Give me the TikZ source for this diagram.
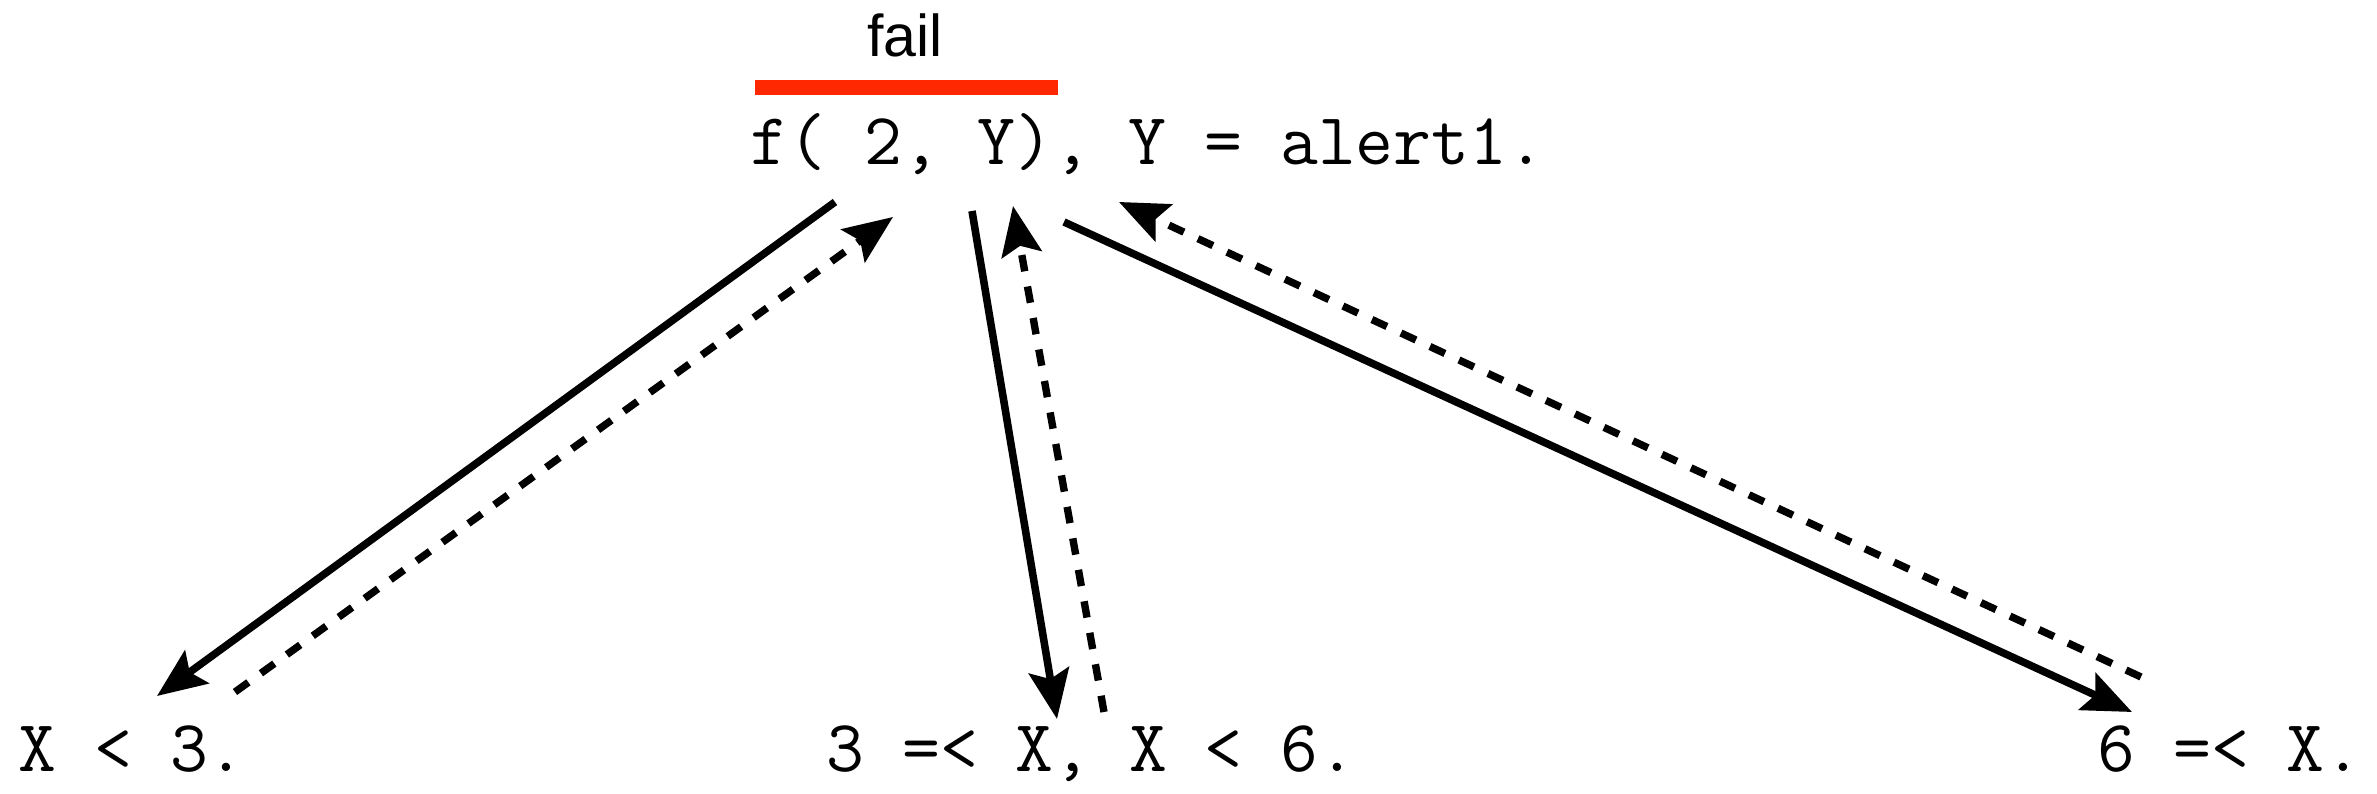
\documentclass[tikz,border=0pt]{standalone}
\usepackage{fontspec}
\setmonofont{Latin Modern Mono}
\setsansfont{Liberation Sans}
\usepackage{xcolor}
\definecolor{failRed}{HTML}{FF2800}
\usepackage{tikz}
\usetikzlibrary{arrows.meta, positioning, calc}

\begin{document}
\begin{tikzpicture}[
        >={Stealth[length=14pt, width=11.5pt, inset=2.5pt]},
        goalNode/.style={
            inner sep=0pt,
            anchor=base west,
            font=\ttfamily\fontsize{20.9}{24}\selectfont
        },
        clauseNode/.style={
            inner sep=0pt,
            anchor=base west,
            font=\ttfamily\fontsize{20.9}{24}\selectfont
        },
        failBar/.style={
            fill=failRed,
            inner sep=0pt,
            minimum width=3.03cm,
            minimum height=0.15cm
        },
        callLine/.style={
            ->,
            line width=2.15pt
        },
        backLine/.style={
            ->,
            line width=2.1pt,
            dash pattern=on 4.7pt off 4.4pt
        }
    ]
    \useasboundingbox (0,0) rectangle (23.77,7.94);

    % Goal on top
    \node[goalNode] (goal) at (7.50, 6.29) {f( 2, Y), Y = alert1.};
    \node[failBar] (bar) at (9.065, 7.065) {};
    \node[inner sep=0pt, anchor=base, font=\sffamily\fontsize{16.8}{19}\selectfont] (failtext) at (9.05, 7.37) {fail};

    % Clauses at the bottom
    \node[clauseNode] (lt) at (0.18, 0.22) {X < 3.};
    \node[clauseNode] (mid) at (8.26, 0.22) {3 =< X, X < 6.};
    \node[clauseNode] (ge) at (20.97, 0.22) {6 =< X.};

    % Calls and backtracking
    \draw[callLine] ([shift={(0.85,-0.37)}]goal.base west) -- ([shift={(1.39,0.76)}]lt.base west);
    \draw[backLine] ([shift={(2.17,0.80)}]lt.base west) -- ([shift={(1.43,-0.52)}]goal.base west);
    \draw[callLine] ([shift={(2.22,-0.46)}]goal.base west) -- ([shift={(2.31,0.53)}]mid.base west);
    \draw[backLine] ([shift={(2.78,0.60)}]mid.base west) -- ([shift={(2.63,-0.41)}]goal.base west);
    \draw[callLine] ([shift={(3.14,-0.57)}]goal.base west) -- ([shift={(0.35,0.60)}]ge.base west);
    \draw[backLine] ([shift={(0.44,0.95)}]ge.base west) -- ([shift={(3.69,-0.37)}]goal.base west);
    \end{tikzpicture}
\end{document}
